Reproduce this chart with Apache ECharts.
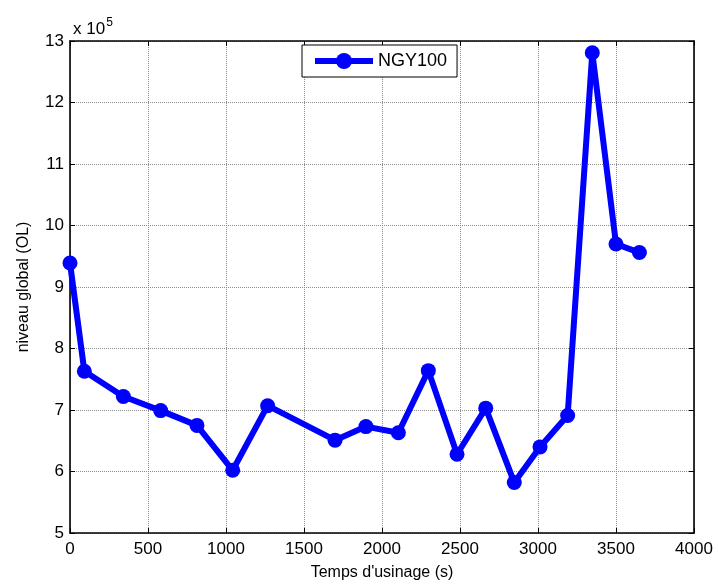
<!DOCTYPE html>
<html>
<head>
<meta charset="utf-8">
<script src="https://cdn.jsdelivr.net/npm/echarts@6/dist/echarts.min.js"></script>
<style>
  html, body { margin: 0; padding: 0; background: #fff; }
  #chart { width: 718px; height: 588px; }
</style>
</head>
<body>
<div id="chart"></div>
<script>
// Machining time (s) and overall vibration level (OL)
const times = [0, 92, 342, 581, 814, 1043, 1267, 1699, 1897, 2105, 2297, 2481, 2665, 2848, 3013, 3190, 3348, 3500, 3650];
const levels = [939000, 763000, 722000, 699000, 675000, 602000, 707000, 651000, 673000, 663000, 764000, 628000, 703000, 582000, 640000, 691000, 1281000, 970000, 956000];
const seriesName = 'NGY100';
const xTicks = { min: 0, max: 4000, interval: 500 };
const yTicks = { min: 500000, max: 1300000, interval: 100000 };
const yScale = 1e5;

const FONT = 'Liberation Sans';
const chart = echarts.init(document.getElementById('chart'), null, { renderer: 'canvas' });

const gridLine = { show: true, lineStyle: { color: '#8c8c8c', type: [1, 1], width: 1 } };
const frameLine = { show: true, onZero: false, lineStyle: { color: '#000', width: 1.6 } };
const innerTick = { show: true, inside: true, length: 5, lineStyle: { color: '#000', width: 1 } };

chart.setOption({
  animation: false,
  textStyle: { fontFamily: FONT },
  title: {
    text: 'x 10{sup|5}',
    left: 68, top: 12,
    textStyle: {
      fontFamily: FONT, fontSize: 17, fontWeight: 'normal', color: '#000',
      rich: { sup: { fontFamily: FONT, fontSize: 12, verticalAlign: 'top', padding: [0, 0, 12, 1] } }
    }
  },
  legend: {
    data: [seriesName],
    left: 302, top: 45,
    orient: 'horizontal',
    backgroundColor: '#fff',
    borderColor: '#000', borderWidth: 1, borderRadius: 0,
    padding: [7, 10, 7, 10],
    itemWidth: 58, itemHeight: 20, itemGap: 6,
    lineStyle: { width: 6, color: '#0000ff' },
    textStyle: { fontFamily: FONT, fontSize: 18, color: '#000' }
  },
  grid: { left: 70, right: 24, top: 41, bottom: 55, containLabel: false },
  xAxis: [{
    type: 'value', position: 'bottom',
    min: xTicks.min, max: xTicks.max, interval: xTicks.interval,
    name: "Temps d'usinage (s)", nameLocation: 'middle', nameGap: 32,
    nameTextStyle: { fontFamily: FONT, fontSize: 16, color: '#000' },
    axisLine: frameLine, axisTick: innerTick, splitLine: gridLine,
    axisLabel: { fontFamily: FONT, fontSize: 17, color: '#000', margin: 8,
      formatter: v => String(v) }
  }, {
    type: 'value', position: 'top',
    min: xTicks.min, max: xTicks.max, interval: xTicks.interval,
    axisLine: frameLine, axisTick: innerTick, splitLine: { show: false },
    axisLabel: { show: false }
  }],
  yAxis: [{
    type: 'value', position: 'left',
    min: yTicks.min, max: yTicks.max, interval: yTicks.interval,
    name: 'niveau global (OL)', nameLocation: 'middle', nameGap: 38, nameRotate: 90,
    nameTextStyle: { fontFamily: FONT, fontSize: 16, color: '#000' },
    axisLine: frameLine, axisTick: innerTick, splitLine: gridLine,
    axisLabel: { fontFamily: FONT, fontSize: 17, color: '#000', margin: 6,
      formatter: v => String(Math.round(v / yScale)) }
  }, {
    type: 'value', position: 'right',
    min: yTicks.min, max: yTicks.max, interval: yTicks.interval,
    axisLine: frameLine, axisTick: innerTick, splitLine: { show: false },
    axisLabel: { show: false }
  }],
  series: [{
    name: seriesName,
    type: 'line',
    data: times.map((t, i) => [t, levels[i]]),
    symbol: 'circle', symbolSize: 15,
    itemStyle: { color: '#0000ff' },
    lineStyle: { color: '#0000ff', width: 6 },
    clip: false
  }]
});
</script>
</body>
</html>
